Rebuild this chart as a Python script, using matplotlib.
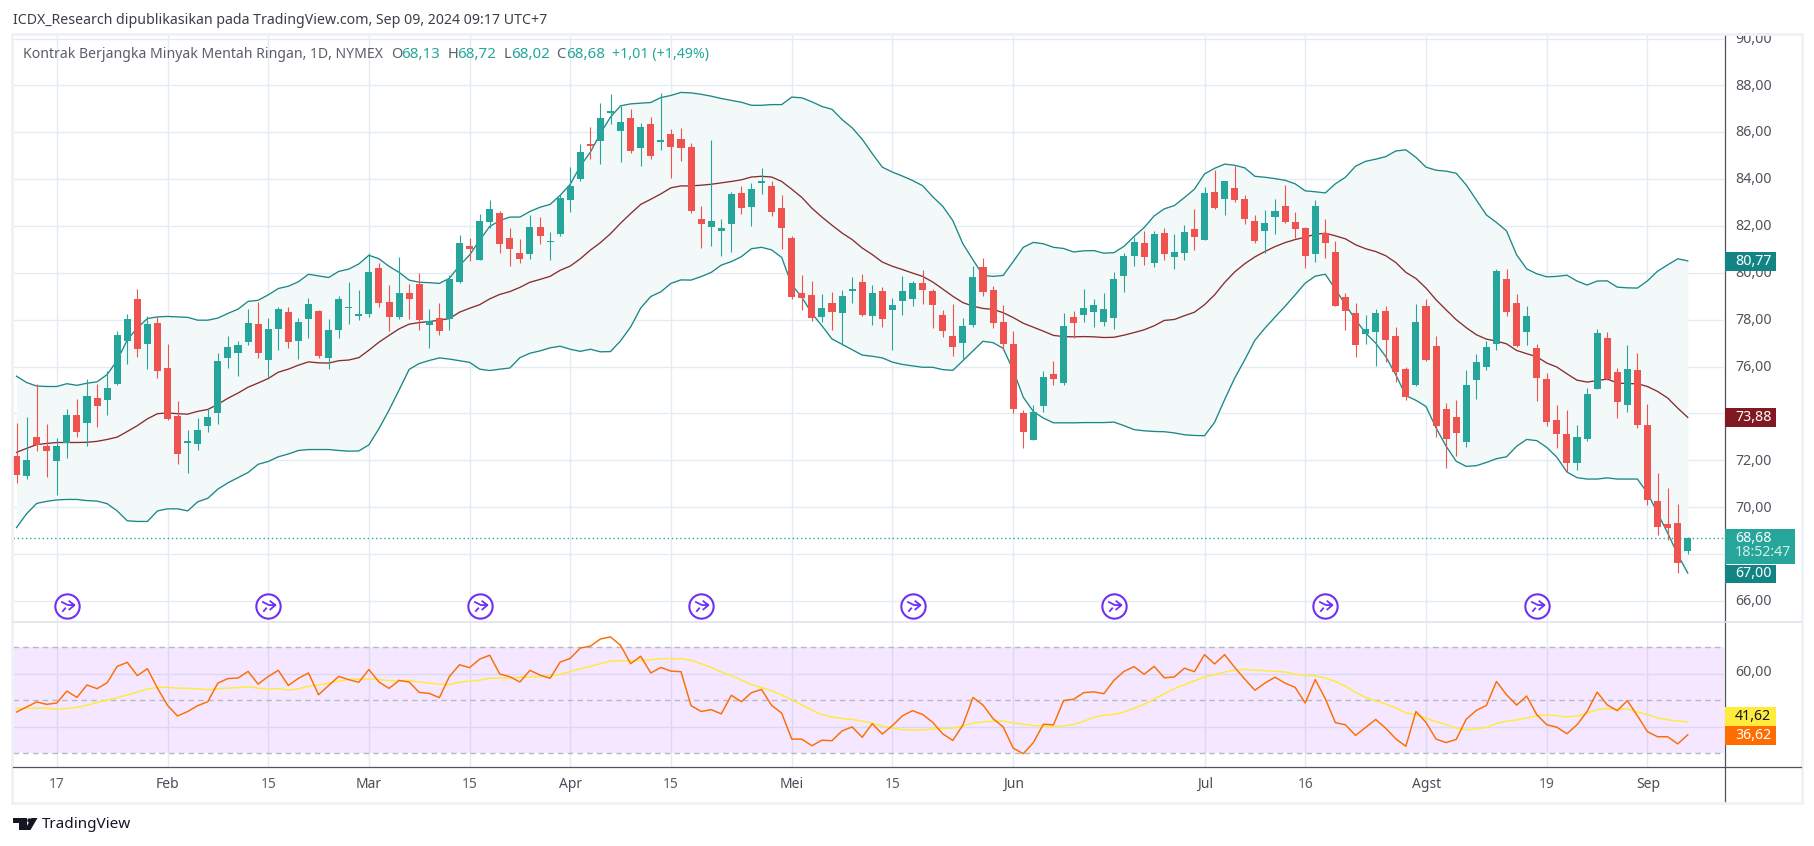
import numpy as np
import matplotlib
matplotlib.use("Agg")
import matplotlib.pyplot as plt
from matplotlib.patches import Rectangle, Polygon, Circle
from matplotlib.path import Path

plt.rcParams['font.family'] = ['Noto Sans', 'DejaVu Sans']

W, H = 1814, 846

# daily candles, Jan - Sep 2024
opens = [72.19,71.33,73.0,72.62,71.98,72.72,73.92,73.58,74.66,74.56,
         75.27,77.1,78.9,76.97,77.87,75.95,73.9,72.75,72.7,73.48,
         74.03,76.38,76.58,77.03,77.83,76.3,77.6,78.33,77.1,78.04,
         78.38,76.38,77.57,78.48,78.17,78.25,80.19,78.76,78.12,79.15,
         79.53,77.78,78.08,78.04,79.62,81.15,80.55,82.18,82.55,81.5,
         80.85,80.82,81.96,81.3,81.66,83.1,84.0,85.45,85.64,86.84,
         86.05,86.62,85.34,86.36,85.6,85.93,85.72,85.37,82.31,81.96,
         81.79,82.09,83.42,82.81,83.84,83.71,82.78,81.5,79.15,79.06,
         78.12,78.73,78.3,79.23,79.61,78.17,79.23,78.42,78.8,78.9,
         79.58,79.23,78.21,77.31,77.02,77.78,80.25,79.28,77.91,76.98,
         74.04,72.88,74.3,75.7,75.32,78.12,78.21,78.33,77.91,78.09,
         79.87,80.72,81.29,80.43,81.71,80.68,80.83,81.88,81.42,83.46,
         83.16,83.63,83.16,82.22,81.79,82.39,82.86,82.18,81.92,80.81,
         81.71,80.9,78.98,78.3,77.4,77.49,78.38,77.31,75.91,75.23,
         78.59,76.89,74.2,73.86,72.79,75.44,75.99,76.97,79.75,78.72,
         77.49,76.8,75.48,73.73,73.14,71.9,72.92,75.05,77.23,75.78,
         74.37,75.86,73.52,70.28,69.3,69.34,68.13]
highs = [73.6,73.83,75.25,73.57,72.95,74.2,74.62,75.45,75.27,75.83,
         77.51,78.24,79.3,78.15,78.1,76.97,74.55,73.3,73.82,74.22,
         76.58,77.3,77.1,78.45,78.77,78.07,78.55,78.55,78.07,78.93,
         78.43,78.04,79.0,79.6,79.27,80.85,80.43,79.5,80.68,79.53,
         80.0,78.47,78.73,79.9,81.6,81.47,82.52,83.1,82.64,81.9,
         81.46,82.46,82.38,81.74,83.38,84.5,85.5,86.23,87.25,87.63,
         87.1,87.0,86.39,86.65,87.68,86.14,86.19,85.55,82.85,85.67,
         82.31,83.45,83.72,83.83,84.48,83.9,83.33,81.56,79.92,79.66,
         79.11,79.19,79.26,79.82,79.95,79.49,79.4,78.94,79.87,79.66,
         80.13,79.31,78.42,78.68,78.09,80.28,80.65,79.44,78.62,77.53,
         74.16,74.34,75.82,76.25,78.3,78.38,79.32,78.9,79.15,80.04,
         80.84,81.55,81.77,81.8,81.93,81.67,82.05,82.73,83.65,84.39,
         83.92,84.54,83.33,82.47,82.69,83.16,83.75,82.6,81.96,83.11,
         82.3,81.35,79.15,78.72,78.21,78.47,78.59,77.7,75.99,78.68,
         78.89,77.31,74.46,74.59,75.86,76.55,77.1,80.17,80.17,79.11,
         78.59,76.97,75.74,74.37,74.16,73.52,75.1,77.61,77.49,75.95,
         76.93,76.59,74.42,71.47,70.83,70.15,68.72]
lows = [71.04,71.2,72.4,71.28,70.5,72.1,73.0,72.6,73.43,73.92,
        75.2,76.1,76.4,75.88,75.5,73.7,71.83,71.45,72.42,73.2,
        73.57,75.95,75.6,76.9,76.38,75.55,76.7,76.8,76.33,77.23,
        76.38,75.88,77.2,77.8,78.0,78.1,78.55,77.53,78.02,78.03,
        77.56,76.8,77.36,77.56,79.56,80.5,80.55,81.9,80.85,80.3,
        80.43,80.6,81.24,80.55,81.56,82.6,83.9,84.86,84.65,86.37,
        84.71,85.12,84.56,84.86,85.25,84.06,84.77,82.57,81.07,81.15,
        80.72,80.89,82.49,82.0,83.37,82.43,81.0,78.87,78.42,77.95,
        77.92,77.57,76.9,78.73,78.17,77.78,77.71,76.72,78.21,78.59,
        78.68,77.66,77.28,76.46,76.26,77.69,79.03,77.66,76.72,74.01,
        72.52,72.85,74.08,75.23,75.23,77.24,77.91,77.69,77.74,77.59,
        79.19,80.3,80.34,80.25,80.56,80.18,80.53,80.98,81.42,82.73,
        82.47,83.04,82.1,81.28,80.84,81.66,82.13,81.49,80.21,80.48,
        80.64,78.59,77.57,76.42,76.97,76.04,76.2,75.35,74.59,75.18,
        76.25,72.98,71.69,72.2,72.58,74.63,75.86,76.72,78.17,76.85,
        76.93,74.54,73.48,72.54,71.52,71.6,72.84,75.05,75.44,73.82,
        74.07,73.39,70.11,68.83,68.62,67.17,68.02]
closes = [71.36,72.0,72.64,72.39,72.59,73.92,73.22,74.76,74.33,75.1,
          77.36,78.04,76.75,77.83,75.83,73.77,72.25,72.77,73.3,73.85,
          76.25,76.84,76.92,77.87,76.58,77.6,78.47,77.03,77.92,78.65,
          76.45,77.57,78.9,78.55,78.25,80.02,78.73,78.12,79.15,78.9,
          78.0,77.95,77.53,79.74,81.27,81.02,82.2,82.72,81.24,81.02,
          80.6,81.96,81.57,81.38,83.2,83.7,85.15,85.42,86.62,86.86,
          86.43,85.21,86.22,85.0,85.66,85.37,85.34,82.63,82.09,82.21,
          81.93,83.37,82.78,83.59,83.88,82.6,81.93,78.97,78.94,78.09,
          78.52,78.33,79.02,79.26,78.21,79.15,78.01,78.64,79.23,79.58,
          79.28,78.64,77.53,76.84,77.74,79.82,79.19,77.88,76.98,74.21,
          73.22,74.07,75.56,75.49,77.74,77.88,78.52,78.64,78.47,79.75,
          80.72,81.32,80.68,81.67,80.81,80.89,81.75,81.51,83.41,82.77,
          83.9,83.11,82.3,81.37,82.13,82.65,82.18,81.88,80.73,82.86,
          81.28,78.59,78.38,76.93,77.61,78.3,77.14,75.78,74.71,77.91,
          76.29,73.48,72.92,73.18,75.23,76.21,76.85,80.09,78.34,76.89,
          78.17,75.52,73.65,73.14,71.9,73.01,74.84,77.44,75.48,74.5,
          75.91,73.52,70.32,69.17,69.13,67.63,68.68]

# bollinger bands
bb_upper = [75.59,75.32,75.17,75.15,75.15,75.27,75.2,75.29,75.35,75.66,
            76.26,77.14,77.65,78.05,78.12,78.14,78.12,78.1,77.98,77.98,
            78.07,78.27,78.45,78.78,78.83,79.06,79.33,79.43,79.62,79.94,
            79.87,79.8,80.06,80.16,80.38,80.75,80.6,80.28,80.02,79.69,
            79.6,79.58,79.55,79.77,80.31,80.76,81.39,81.98,82.23,82.38,
            82.38,82.62,82.8,82.92,83.31,83.78,84.56,85.15,85.95,86.65,
            87.13,87.21,87.24,87.27,87.48,87.57,87.7,87.68,87.62,87.54,
            87.44,87.36,87.28,87.15,87.15,87.18,87.18,87.5,87.47,87.3,
            87.1,86.98,86.54,86.19,85.7,85.09,84.51,84.3,84.13,83.94,
            83.72,83.25,82.84,82.23,81.24,80.56,79.89,79.85,79.89,80.48,
            81.09,81.3,81.24,81.09,81.04,80.89,80.94,80.95,80.84,80.86,
            81.13,81.55,81.93,82.43,82.73,82.87,83.21,83.57,84.22,84.46,
            84.64,84.59,84.48,84.12,84.08,84.02,83.95,83.8,83.5,83.46,
            83.41,83.8,84.08,84.55,84.76,84.85,84.96,85.2,85.25,84.93,
            84.51,84.38,84.34,84.25,83.75,83.11,82.47,82.15,81.79,80.77,
            80.17,79.96,79.83,79.85,79.9,79.65,79.48,79.65,79.66,79.39,
            79.36,79.35,79.66,80.07,80.34,80.6,80.51]
bb_basis = [72.34,72.51,72.67,72.72,72.76,72.76,72.76,72.77,72.81,72.89,
            72.99,73.23,73.48,73.77,73.99,74.02,73.99,73.97,74.09,74.17,
            74.39,74.65,74.87,75.12,75.3,75.49,75.76,75.89,76.06,76.2,
            76.16,76.15,76.25,76.28,76.38,76.7,77.04,77.33,77.61,77.81,
            77.88,77.92,77.98,78.05,78.32,78.49,78.64,78.89,79.08,79.2,
            79.38,79.6,79.72,79.85,80.11,80.29,80.6,80.97,81.29,81.67,
            82.12,82.53,82.92,83.14,83.37,83.63,83.71,83.71,83.74,83.78,
            83.84,83.9,83.97,84.09,84.12,84.09,83.9,83.57,83.22,82.76,
            82.38,82.03,81.7,81.42,81.06,80.78,80.46,80.28,80.14,79.99,
            79.85,79.61,79.31,79.0,78.73,78.58,78.48,78.44,78.3,78.09,
            77.85,77.68,77.51,77.33,77.28,77.27,77.28,77.27,77.24,77.25,
            77.34,77.45,77.57,77.74,77.97,78.01,78.17,78.32,78.64,79.06,
            79.59,80.04,80.39,80.68,80.91,81.12,81.29,81.42,81.52,81.65,
            81.69,81.58,81.45,81.2,81.03,80.91,80.73,80.44,80.02,79.76,
            79.35,78.85,78.42,78.0,77.66,77.36,77.17,77.09,76.97,76.69,
            76.55,76.42,76.15,75.98,75.69,75.42,75.34,75.4,75.47,75.3,
            75.27,75.27,75.15,74.94,74.66,74.23,73.83]
bb_lower = [69.13,69.72,70.16,70.25,70.31,70.33,70.33,70.28,70.26,70.15,
            69.84,69.42,69.39,69.39,69.84,69.93,69.93,69.84,70.23,70.38,
            70.77,71.04,71.26,71.48,71.83,71.95,72.15,72.27,72.42,72.46,
            72.46,72.46,72.42,72.39,72.4,72.66,73.35,74.14,75.0,75.88,
            76.13,76.26,76.37,76.32,76.25,76.18,75.89,75.83,75.89,75.94,
            76.38,76.57,76.67,76.8,76.87,76.74,76.65,76.74,76.63,76.64,
            77.1,77.69,78.5,78.99,79.19,79.55,79.7,79.69,79.84,80.02,
            80.33,80.48,80.69,81.03,81.09,80.98,80.66,79.49,78.96,78.27,
            77.74,77.18,76.95,76.72,76.49,76.44,76.37,76.19,76.09,76.03,
            75.97,75.97,75.87,75.84,76.25,76.67,77.08,77.02,76.78,75.84,
            74.69,74.08,73.8,73.6,73.6,73.6,73.61,73.61,73.61,73.63,
            73.48,73.31,73.26,73.23,73.22,73.17,73.09,73.06,73.05,73.62,
            74.59,75.51,76.29,77.12,77.64,78.11,78.57,79.06,79.56,79.86,
            79.94,79.3,78.64,78.0,77.43,77.0,76.43,75.65,74.76,74.56,
            74.3,73.38,72.6,71.96,71.74,71.77,71.91,72.07,72.15,72.6,
            72.89,72.84,72.55,72.13,71.5,71.26,71.2,71.2,71.25,71.2,
            71.2,71.2,70.6,69.75,68.9,67.98,67.19]

# rsi and its moving average
rsi = [45.5,47.4,49.3,48.4,48.9,53.4,51.0,55.7,54.3,56.5,
       62.7,64.2,59.2,61.8,54.5,48.0,44.0,45.7,47.9,49.4,
       56.4,58.1,58.3,60.8,56.0,58.9,61.2,55.5,58.2,60.2,
       52.0,55.5,58.9,57.7,56.7,61.5,56.8,54.4,57.4,56.8,
       52.9,52.5,50.9,58.9,63.3,62.2,65.4,66.9,59.8,58.8,
       56.8,61.2,59.4,58.2,64.3,65.7,69.6,70.3,73.0,73.8,
       70.6,63.7,66.5,60.2,62.3,60.9,60.7,47.9,45.7,46.4,
       44.8,51.8,49.4,52.8,54.0,48.0,45.1,35.3,35.3,32.8,
       34.9,34.7,38.4,39.9,36.0,41.1,37.2,40.4,44.1,46.0,
       44.6,41.6,37.3,34.8,40.6,51.0,48.1,43.0,39.9,31.9,
       29.8,34.0,40.9,40.7,49.8,50.3,52.8,53.1,52.4,57.4,
       60.8,62.6,59.7,62.7,58.4,58.7,62.0,60.7,67.1,63.6,
       67.1,62.3,57.9,53.7,56.4,58.6,56.4,54.8,48.9,57.7,
       50.5,41.5,40.7,36.7,39.7,42.7,39.4,35.4,32.6,45.7,
       41.6,35.3,34.0,35.2,42.8,46.1,48.0,57.0,52.0,48.1,
       51.5,44.5,40.7,39.8,37.3,40.7,45.7,53.0,48.2,46.0,
       49.8,44.1,38.1,36.2,36.2,33.5,36.9]
rsi_ma = [46.9,46.9,47.0,46.9,46.5,46.9,47.2,48.1,49.1,50.0,
          50.9,51.9,53.0,54.2,54.8,54.8,54.5,54.4,54.2,53.9,
          54.3,54.5,54.7,55.0,54.5,54.2,54.3,53.8,54.2,55.2,
          55.7,56.4,57.2,57.7,57.9,57.9,57.7,57.3,57.3,57.4,
          56.8,56.4,56.0,55.9,56.7,57.2,57.5,58.2,58.3,58.3,
          58.6,58.7,58.8,59.1,59.8,60.7,61.8,62.7,63.7,64.7,
          64.8,64.8,65.0,65.2,65.6,65.6,65.6,65.0,63.7,62.3,
          60.6,59.2,57.5,55.9,54.7,53.5,51.9,50.1,48.2,46.2,
          44.5,43.6,43.1,42.7,42.1,41.3,40.2,39.4,38.8,38.7,
          38.7,39.1,39.3,39.4,40.3,41.3,41.8,42.0,42.1,41.4,
          40.9,40.4,40.2,40.1,40.3,40.8,42.0,43.5,44.3,44.6,
          45.5,46.9,48.4,50.4,52.4,54.3,55.8,57.2,58.7,59.6,
          60.6,61.2,61.6,61.3,61.1,60.8,60.6,59.8,59.2,59.1,
          58.3,57.0,55.2,52.9,51.0,49.7,48.5,47.0,45.2,44.5,
          43.2,41.9,40.8,39.4,38.8,39.1,39.7,41.2,42.1,42.5,
          43.3,44.1,44.5,44.1,43.7,44.0,45.1,46.4,46.7,46.7,
          46.6,45.5,44.5,43.3,42.6,42.1,41.8]

date_pos = [4, 15, 25, 35, 45, 55, 65, 77, 87, 99, 118, 128, 140, 152, 162]
date_labels = ['17', 'Feb', '15', 'Mar', '15', 'Apr', '15', 'Mei', '15', 'Jun',
               'Jul', '16', 'Agst', '19', 'Sep']
months = ['Feb', 'Mar', 'Apr', 'Mei', 'Jun', 'Jul', 'Agst', 'Sep']
price_ticks = [66, 68, 70, 72, 74, 76, 78, 80, 82, 84, 86, 88, 90]
event_pos = [5, 25, 46, 68, 89, 109, 130, 151]

UP = '#26a69a'
DOWN = '#ef5350'
GRID = '#e3ecf2'
TXT = '#50535e'


def axes_px(x0, y0, x1, y1):
    # pixel box (y from the top) to figure fractions
    return [x0 / W, 1 - y1 / H, (x1 - x0) / W, (y1 - y0) / H]


def ftext(x, y, s, **kw):
    kw.setdefault('va', 'center')
    kw.setdefault('ha', 'left')
    kw.setdefault('fontsize', 10.2)
    kw.setdefault('color', TXT)
    fig.text(x / W, 1 - y / H, s, **kw)


def fbox(x0, y0, x1, y1, color, z=5):
    fig.add_artist(Rectangle((x0 / W, 1 - y1 / H), (x1 - x0) / W, (y1 - y0) / H,
                             transform=fig.transFigure, fc=color, ec='none', zorder=z))


fig = plt.figure(figsize=(W / 100, H / 100), dpi=100, facecolor='white')

ax = fig.add_axes(axes_px(13, 35, 1724, 622))
ax2 = fig.add_axes(axes_px(13, 622, 1724, 767))

xs = np.arange(len(opens))
xlim = (-0.35, 169.6)

# main pane
ax.set_xlim(*xlim)
ax.set_ylim(65.1, 90.15)
ax.set_yticks(price_ticks)
ax.set_xticks(date_pos)
ax.grid(True, color=GRID, lw=1.0)
ax.set_axisbelow(True)
ax.tick_params(left=False, bottom=False, labelleft=False, labelbottom=False)
for s in ax.spines.values():
    s.set_visible(False)

ax.fill_between(xs, bb_lower, bb_upper, color='#f3f9f8', lw=0, zorder=1)
ax.plot(xs, bb_upper, color='#1c8787', lw=0.95, zorder=2)
ax.plot(xs, bb_lower, color='#1c8787', lw=0.95, zorder=2)
ax.plot(xs, bb_basis, color='#882c2f', lw=0.95, zorder=2)
ax.axhline(closes[-1], color=UP, lw=1.0, ls=(0, (1, 2)), zorder=2)

for i in xs:
    col = UP if closes[i] >= opens[i] else DOWN
    ax.vlines(i, lows[i], highs[i], color=col, lw=0.8, zorder=3)
    low, top = sorted((opens[i], closes[i]))
    ax.bar(i, max(top - low, 0.06), bottom=low, width=0.7, color=col, lw=0, zorder=4)

# event markers under the candles
arrow = Path([(-0.55, 0.42), (0.05, 0.12), (0.6, 0.12), (0.1, 0.5), (0.6, 0.12), (0.1, -0.3),
              (-0.15, -0.1), (-0.45, -0.45)],
             [Path.MOVETO, Path.LINETO, Path.LINETO, Path.MOVETO, Path.LINETO, Path.LINETO,
              Path.MOVETO, Path.LINETO])
for p in event_pos:
    ax.plot([p], [65.8], marker='o', ms=17.5, mfc='white', mec='#6f2ff5', mew=1.5, zorder=5)
    ax.plot([p], [65.8], marker=arrow, ms=10, mfc='none', mec='#6f2ff5', mew=1.3, zorder=6)

# rsi pane
ax2.set_xlim(*xlim)
ax2.set_ylim(24.8, 79.4)
ax2.set_yticks([40, 60])
ax2.set_xticks(date_pos)
ax2.grid(True, color=GRID, lw=1.0)
ax2.set_axisbelow(True)
ax2.tick_params(left=False, bottom=False, labelleft=False, labelbottom=False)
for s in ax2.spines.values():
    s.set_visible(False)
ax2.axhspan(30, 70, color='#c77dff', alpha=0.18, lw=0, zorder=1)
for lev in [30, 50, 70]:
    ax2.axhline(lev, color='#b8b8c0', lw=1.0, ls=(0, (4, 3)), zorder=1.5)
ax2.plot(xs, rsi_ma, color='#ffeb3b', lw=1.05, zorder=2)
ax2.plot(xs, rsi, color='#ff6d00', lw=1.05, zorder=3)

# frame and separators
fig.add_artist(Rectangle((12 / W, 1 - 803 / H), 1790 / W, 769 / H, transform=fig.transFigure,
                         fc='none', ec='#eff1f6', lw=2.0, zorder=6))
fig.add_artist(plt.Line2D([13 / W, 1724 / W], [1 - 622 / H] * 2, color='#e0e3eb', lw=1.2, zorder=6))
fig.add_artist(plt.Line2D([13 / W, 1801 / W], [1 - 767 / H] * 2, color='#50535e', lw=0.9, zorder=6))
fig.add_artist(plt.Line2D([1724.5 / W] * 2, [1 - 36 / H, 1 - 801 / H], color='#50535e', lw=0.9, zorder=6))
fig.add_artist(plt.Line2D([1724 / W, 1801 / W], [1 - 622 / H] * 2, color='#e0e3eb', lw=1.2, zorder=6))

# header and legend
ftext(13, 20, 'ICDX_Research dipublikasikan pada TradingView.com, Sep 09, 2024 09:17 UTC+7',
      fontsize=10.2, color='#3c3f49')
ftext(23, 54.5, 'Kontrak Berjangka Minyak Mentah Ringan, 1D, NYMEX', fontsize=10.1, color='#5b5e69')
for xl, lab, xv, val in [(391.5, 'O', 401, '68,13'), (447.5, 'H', 457, '68,72'),
                         (504, 'L', 511, '68,02'), (556.5, 'C', 566.5, '68,68')]:
    ftext(xl, 54.5, lab, fontsize=10.6, color='#5b5e69')
    ftext(xv, 54.5, val, fontsize=10.9, color=UP)
ftext(612, 54.5, '+1,01 (+1,49%)', fontsize=10.2, color=UP)

# price scale, the 68 label sits fully under the last price box
y_of = lambda p: 601.4 - (p - 66) * 23.45
for p in price_ticks:
    if p != 68:
        ftext(1735, y_of(p) + 0.5, f'{p},00')
ftext(1735, 672, '60,00')

for x0, y0, x1, y1, col, txt, tc in [(1725, 252, 1776, 271, '#138484', '80,77', 'white'),
                                     (1725, 408, 1776, 427, '#801922', '73,88', 'white'),
                                     (1725, 565, 1776, 583, '#138484', '67,00', 'white'),
                                     (1725, 707, 1776, 726, '#ffeb3b', '41,62', '#131722'),
                                     (1725, 726, 1776, 745, '#ff6d00', '36,62', 'white')]:
    fbox(x0, y0, x1, y1, col, z=7)
    ftext(1735, (y0 + y1) / 2 - 0.5, txt, color=tc, zorder=8)
fbox(1725, 529, 1795, 564, UP, z=7)
ftext(1735, 538, '68,68', color='white', zorder=8)
ftext(1735, 553, '18:52:47', color='#d4efeb', zorder=8)

# dates
for p, lab in zip(date_pos, date_labels):
    x = 16.5 + p * 10.07
    bold = lab in months
    ftext(x, 784, lab, ha='center', fontsize=10, fontweight='bold' if bold else 'normal',
          color='#4a4d58' if bold else '#5b5e69')

# logo
fig.add_artist(Polygon([(13.3 / W, 1 - 818 / H), (26.7 / W, 1 - 818 / H), (26.7 / W, 1 - 830 / H),
                        (18.5 / W, 1 - 830 / H), (18.5 / W, 1 - 822.5 / H), (13.3 / W, 1 - 822.5 / H)],
                       transform=fig.transFigure, fc='#131722', ec='none'))
fig.add_artist(Polygon([(31.5 / W, 1 - 818 / H), (37.5 / W, 1 - 818 / H), (30.5 / W, 1 - 830 / H),
                        (24.5 / W, 1 - 830 / H)],
                       transform=fig.transFigure, fc='#131722', ec='none'))
fig.add_artist(plt.Line2D([29 / W], [1 - 820.3 / H], marker='o', ms=3.2, color='#131722', mew=0))
ftext(42, 824, 'TradingView', fontsize=11, color='#131722')

fig.savefig('out.png', dpi=100)
